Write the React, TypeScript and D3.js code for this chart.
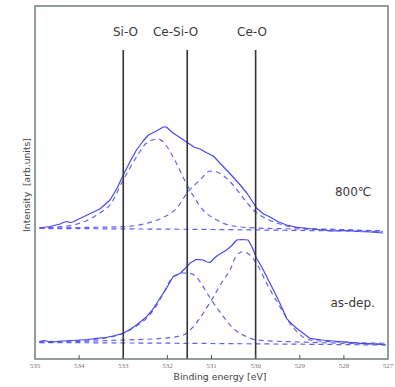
import * as d3 from 'd3';

// binding energy [eV], intensity [arb.units]
const ticks = [535, 534, 533, 532, 531, 530, 529, 528, 527];

const refLines = [
  { name: 'Si-O', be: 533.0 },
  { name: 'Ce-Si-O', be: 531.55 },
  { name: 'Ce-O', be: 530.0 },
];

// 800℃ spectrum
const annealedMeasured: [number, number][] = [
  [534.9, 131], [534.66, 132.5], [534.43, 135], [534.36, 136.5], [534.28, 137.5], [534.2, 136.5],
  [534.14, 137], [534.03, 139.5], [533.91, 142], [533.72, 146], [533.53, 150], [533.3, 159],
  [533.15, 170], [533.0, 184], [532.85, 197], [532.7, 209], [532.55, 218], [532.43, 224],
  [532.25, 228], [532.09, 232], [532.02, 232], [531.95, 229], [531.87, 226], [531.7, 221],
  [531.53, 216], [531.4, 212], [531.26, 210], [531.1, 206], [530.96, 203], [530.81, 196],
  [530.66, 189], [530.51, 182], [530.35, 174], [530.2, 166], [530.08, 158], [529.98, 151],
  [529.82, 145], [529.67, 142], [529.5, 137.5], [529.3, 134], [529.1, 132], [528.92, 131],
  [528.6, 129.5], [528.24, 128], [527.95, 128.5], [527.68, 127.5], [527.4, 127], [527.11, 126],
];

const annealedCeSiO: [number, number][] = [
  [534.9, 131], [534.5, 132], [534.14, 134], [533.8, 139], [533.53, 146], [533.3, 154],
  [533.0, 179], [532.7, 202], [532.47, 216], [532.21, 220], [532.09, 217], [531.87, 202],
  [531.53, 172], [531.19, 149], [530.88, 139], [530.51, 133], [529.98, 131], [529.0, 130],
  [527.11, 128],
];

const annealedCeO: [number, number][] = [
  [534.9, 131], [533.98, 131.5], [533.01, 132.3], [532.47, 135.7], [532.09, 141.7],
  [531.79, 150.7], [531.53, 167.3], [531.26, 179], [531.03, 188], [530.88, 187],
  [530.51, 174], [530.28, 161], [530.05, 149], [529.83, 142], [529.52, 136], [528.99, 131],
  [528.09, 129.5], [527.11, 128],
];

const annealedBackground: [number, number][] = [
  [534.9, 130.5], [531.0, 129.5], [527.11, 127.5],
];

// as-dep. spectrum
const asDepMeasured: [number, number][] = [
  [534.9, 17.3], [534.78, 18.5], [534.66, 16.7], [534.5, 17.5], [534.36, 18], [534.15, 18.5],
  [533.98, 19], [533.8, 19.5], [533.6, 20.7], [533.4, 21.5], [533.23, 23], [533.0, 25.7],
  [532.85, 29.5], [532.7, 34], [532.47, 42.3], [532.35, 48.5], [532.24, 55.7], [532.12, 64],
  [532.02, 70.7], [531.87, 82.3], [531.78, 84], [531.71, 85.7], [531.6, 90.5], [531.49, 95.7],
  [531.34, 99.7], [531.19, 99], [531.1, 97], [531.03, 96.7], [530.88, 103], [530.66, 109],
  [530.55, 113], [530.43, 119], [530.3, 119.5], [530.17, 119], [530.07, 111], [529.98, 100.7],
  [529.86, 92], [529.75, 82.3], [529.62, 71], [529.52, 62.3], [529.4, 51], [529.3, 40.7],
  [529.18, 35], [529.07, 30.7], [528.9, 25], [528.77, 20.7], [528.5, 19], [528.24, 18],
  [527.95, 17], [527.63, 15.7], [527.3, 15], [527.05, 14],
];

const asDepCeSiO: [number, number][] = [
  [534.9, 17.3], [533.98, 18.5], [533.3, 22], [533.0, 25.7], [532.7, 33], [532.47, 40.7],
  [532.24, 54], [532.09, 65.7], [531.87, 82.3], [531.64, 86], [531.49, 85.7], [531.34, 82],
  [531.19, 72.3], [531.0, 59], [530.73, 42.3], [530.51, 30.7], [530.2, 22.3], [529.98, 19],
  [529.0, 17], [527.11, 15],
];

const asDepCeO: [number, number][] = [
  [534.9, 16.3], [533.0, 19], [532.09, 20.7], [531.64, 24], [531.41, 32.3], [531.19, 45.7],
  [531.0, 59], [530.73, 79], [530.58, 89], [530.43, 104], [530.28, 107.3], [530.13, 104],
  [529.98, 95.7], [529.75, 75.7], [529.45, 52.3], [529.22, 35.7], [528.77, 19], [528.24, 17.3],
  [527.05, 15.7],
];

const asDepBackground: [number, number][] = [
  [534.9, 16.5], [531.0, 15.5], [527.05, 14],
];

const solidSeries = [annealedMeasured, asDepMeasured];
const dashedSeries = [
  annealedCeSiO, annealedCeO, annealedBackground,
  asDepCeSiO, asDepCeO, asDepBackground,
];

const spectrumLabels = [
  { text: '800℃', be: 527.79, value: 163 },
  { text: 'as-dep.', be: 527.8, value: 52.5 },
];

const W = 395;
const H = 387;
const plot = { left: 35, right: 388, top: 6, bottom: 359 };

export default function App() {
  const x = d3.scaleLinear().domain([535, 527]).range([plot.left, plot.right]);
  const y = d3.scaleLinear().domain([0, 353]).range([plot.bottom, plot.top]);

  const solidLine = d3
    .line<[number, number]>()
    .x((d) => x(d[0]))
    .y((d) => y(d[1]));

  const dashedLine = d3
    .line<[number, number]>()
    .x((d) => x(d[0]))
    .y((d) => y(d[1]))
    .curve(d3.curveMonotoneX);

  const font = '"DejaVu Sans", Verdana, sans-serif';

  return (
    <svg
      width={W}
      height={H}
      style={{ position: 'absolute', left: 0, top: 0, background: '#fff' }}
      fontFamily={font}
    >
      <rect x={0} y={0} width={W} height={H} fill="#fff" />

      {dashedSeries.map((s, i) => (
        <path
          key={'d' + i}
          d={dashedLine(s) ?? ''}
          fill="none"
          stroke="#6262f2"
          strokeWidth={1.2}
          strokeDasharray="5,4"
        />
      ))}
      {solidSeries.map((s, i) => (
        <path
          key={'s' + i}
          d={solidLine(s) ?? ''}
          fill="none"
          stroke="#4848f0"
          strokeWidth={1.2}
          strokeLinejoin="round"
        />
      ))}

      {refLines.map((r) => (
        <line
          key={r.name}
          x1={x(r.be)}
          x2={x(r.be)}
          y1={50}
          y2={plot.bottom}
          stroke="#333"
          strokeWidth={1.6}
        />
      ))}
      <text x={125.5} y={36} textAnchor="middle" fontSize={12} fill="#3a3a3a">Si-O</text>
      <text x={175.5} y={36} textAnchor="middle" fontSize={12} fill="#3a3a3a">Ce-Si-O</text>
      <text x={252} y={36} textAnchor="middle" fontSize={12} fill="#3a3a3a">Ce-O</text>

      {spectrumLabels.map((l) => (
        <text
          key={l.text}
          x={x(l.be)}
          y={y(l.value)}
          textAnchor="middle"
          fontSize={12}
          fill="#3a3a3a"
        >
          {l.text}
        </text>
      ))}

      <rect
        x={plot.left}
        y={plot.top}
        width={plot.right - plot.left}
        height={plot.bottom - plot.top}
        fill="none"
        stroke="#6d7e7e"
        strokeWidth={1.5}
      />

      {ticks.slice(1, -1).map((t) => (
        <line
          key={'t' + t}
          x1={x(t)}
          x2={x(t)}
          y1={plot.bottom - 4}
          y2={plot.bottom}
          stroke="#555"
          strokeWidth={1}
        />
      ))}
      {ticks.map((t) => (
        <text
          key={'l' + t}
          x={x(t)}
          y={368}
          textAnchor="middle"
          fontSize={7}
          fontFamily='"Liberation Serif", serif'
          fill="#777"
        >
          {t}
        </text>
      ))}

      <text x={220} y={380} textAnchor="middle" fontSize={9.3} fill="#444">
        Binding energy [eV]
      </text>
      <text
        transform="translate(29.5,185) rotate(-90)"
        textAnchor="middle"
        fontSize={9.2}
        fill="#444"
        style={{ whiteSpace: 'pre' }}
      >
        {'Intensity  [arb.units]'}
      </text>
    </svg>
  );
}
